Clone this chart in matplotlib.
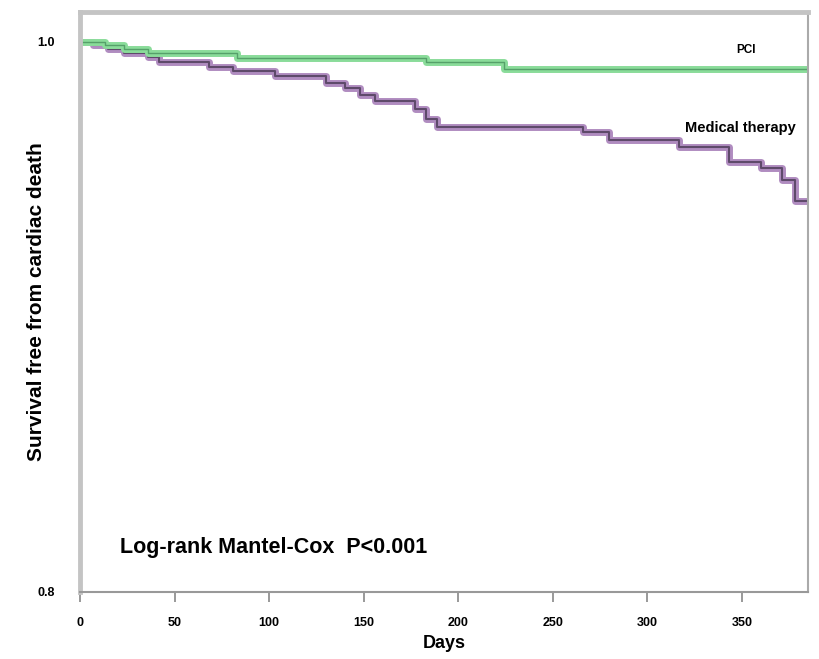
import matplotlib
matplotlib.use("Agg")
import matplotlib.pyplot as plt

plt.rcParams['font.family'] = ['Liberation Sans', 'DejaVu Sans']

# Kaplan-Meier step data (days, survival)
pci_days = [0, 13, 23, 36, 83, 183, 224, 385]
pci_surv = [1.0, 0.9989, 0.9975, 0.9960, 0.9942, 0.9927, 0.9902, 0.9902]

med_days = [0, 7, 15, 23, 36, 42, 68, 81, 103, 130, 140, 148, 156, 177, 183,
            189, 266, 280, 317, 343, 360, 371, 378, 385]
med_surv = [1.0, 0.9989, 0.9975, 0.9960, 0.9945, 0.9927, 0.9909, 0.9895,
            0.9876, 0.9851, 0.9833, 0.9807, 0.9785, 0.9756, 0.9720, 0.9691,
            0.9673, 0.9644, 0.9618, 0.9564, 0.9542, 0.9498, 0.9422, 0.9422]

x_ticks = [0, 50, 100, 150, 200, 250, 300, 350]
y_ticks = [0.8, 1.0]
y_tick_labels = ["0.8", "1.0"]

fig = plt.figure(figsize=(8.19, 6.59), dpi=100)
ax = fig.add_axes([0.0977, 0.1017, 0.8889, 0.8801])

# thick coloured band with a darker thin line on top
ax.step(med_days, med_surv, where='post', color='#b08cc0', lw=5, solid_capstyle='butt')
ax.step(med_days, med_surv, where='post', color='#5e4a6a', lw=1.5)
ax.step(pci_days, pci_surv, where='post', color='#8adc9a', lw=5, solid_capstyle='butt')
ax.step(pci_days, pci_surv, where='post', color='#56a06a', lw=1.0)

ax.set_xlim(0, 385)
ax.set_ylim(0.8, 1.0109)

ax.set_xticks(x_ticks)
ax.set_xticklabels([str(t) for t in x_ticks], fontsize=9, fontweight='bold')
ax.set_yticks(y_ticks)
ax.set_yticklabels(y_tick_labels, fontsize=9, fontweight='bold')
ax.tick_params(axis='x', direction='out', length=7, width=1.2, color='#888888', pad=11)
ax.tick_params(axis='y', length=0, pad=18)

for side in ['left', 'top']:
    ax.spines[side].set_color('#c4c4c4')
    ax.spines[side].set_linewidth(3.5)
ax.spines['right'].set_color('#aaaaaa')
ax.spines['right'].set_linewidth(1.5)
ax.spines['bottom'].set_color('#999999')
ax.spines['bottom'].set_linewidth(1.5)

ax.set_xlabel("Days", fontsize=13, fontweight='bold', labelpad=4)
ax.set_ylabel("Survival free from cardiac death", fontsize=15, fontweight='bold', labelpad=-6)

ax.text(352, 0.997, "PCI", fontsize=8.5, fontweight='bold', ha='center', va='center')
ax.text(349, 0.9687, "Medical therapy", fontsize=10.5, fontweight='bold', ha='center', va='center')
ax.text(21, 0.816, "Log-rank Mantel-Cox  P<0.001", fontsize=15.5, fontweight='bold',
        ha='left', va='center')

fig.savefig("out.png", dpi=100)
